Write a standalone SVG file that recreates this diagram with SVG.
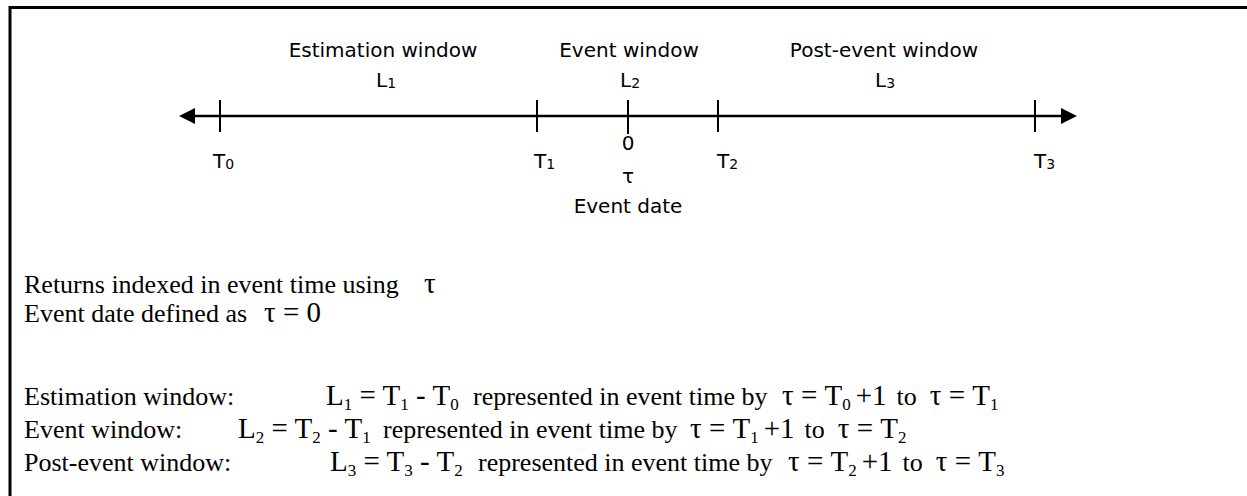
<svg xmlns="http://www.w3.org/2000/svg" width="1247" height="496" viewBox="0 0 1247 496">
<style>
.sans{font-family:"DejaVu Sans","Liberation Sans",sans-serif;font-size:20px;fill:#000}
.ss{font-size:14px}
.serif{font-family:"Liberation Serif","Times New Roman",serif;font-size:26px;fill:#000}
.m{font-size:29px}
.s{font-size:17px}
.tick{stroke:#000;stroke-width:2}
.axis{stroke:#000;stroke-width:2.5;fill:none}
</style>
<defs>
<marker id="ah" viewBox="0 0 16 16" refX="2" refY="8" markerWidth="16" markerHeight="16" markerUnits="userSpaceOnUse" orient="auto-start-reverse">
<path d="M0,0 L16,8 L0,16 Z" fill="#000"/>
</marker>
</defs>
<rect width="1247" height="496" fill="#fff"/>
<g id="frame">
<path d="M10,496 V7.5 H1247" fill="none" stroke="#000" stroke-width="3"/>
</g>
<g id="connectors">
<line class="axis" x1="193" y1="116" x2="1063" y2="116" marker-start="url(#ah)" marker-end="url(#ah)"/>
</g>
<g id="ticks">
<line id="tick-T0" class="tick" x1="220" y1="100" x2="220" y2="132"/>
<line id="tick-T1" class="tick" x1="537" y1="100" x2="537" y2="132"/>
<line id="tick-0" class="tick" x1="628" y1="100" x2="628" y2="134"/>
<line id="tick-T2" class="tick" x1="718" y1="100" x2="718" y2="132"/>
<line id="tick-T3" class="tick" x1="1035" y1="100" x2="1035" y2="132"/>
</g>
<g id="window-labels" class="sans">
<g id="estimation-window"><text x="383" y="57" text-anchor="middle">Estimation window</text><text x="376" y="87">L<tspan class="ss" dy="1">1</tspan></text></g>
<g id="event-window"><text x="629" y="57" text-anchor="middle">Event window</text><text x="620" y="87">L<tspan class="ss" dy="1">2</tspan></text></g>
<g id="post-event-window"><text x="884" y="57" text-anchor="middle">Post-event window</text><text x="875" y="87">L<tspan class="ss" dy="1">3</tspan></text></g>
</g>
<g id="tick-labels" class="sans">
<text x="213" y="168">T<tspan class="ss" dy="1">0</tspan></text>
<text x="534" y="168">T<tspan class="ss" dy="1">1</tspan></text>
<text x="628" y="150" text-anchor="middle">0</text>
<text x="717" y="168">T<tspan class="ss" dy="1">2</tspan></text>
<text x="1034" y="168">T<tspan class="ss" dy="1">3</tspan></text>
<text x="628" y="183" text-anchor="middle">τ</text>
<text x="628" y="213" text-anchor="middle">Event date</text>
</g>
<g id="notes" class="serif">
<text x="24" y="293">Returns indexed in event time using</text>
<text x="424" y="293" class="m">τ</text>
<text x="24" y="322">Event date defined as</text>
<text x="264" y="322" class="m">τ = 0</text>

<text x="24" y="405">Estimation window:</text>
<text x="326" y="405"><tspan class="m">L</tspan><tspan class="s" dy="5">1</tspan><tspan class="m" dy="-5"> = T</tspan><tspan class="s" dy="5">1</tspan><tspan class="m" dy="-5"> - T</tspan><tspan class="s" dy="5">0</tspan></text>
<text x="473" y="405">represented in event time by</text>
<text x="782" y="405"><tspan class="m">τ = T</tspan><tspan class="s" dy="5">0</tspan><tspan class="m" dy="-5" dx="5">+1</tspan><tspan dx="10">to</tspan><tspan class="m" dx="13">τ = T</tspan><tspan class="s" dy="5">1</tspan></text>

<text x="24" y="438">Event window:</text>
<text x="238" y="438"><tspan class="m">L</tspan><tspan class="s" dy="5">2</tspan><tspan class="m" dy="-5"> = T</tspan><tspan class="s" dy="5">2</tspan><tspan class="m" dy="-5"> - T</tspan><tspan class="s" dy="5">1</tspan></text>
<text x="383" y="438">represented in event time by</text>
<text x="690" y="438"><tspan class="m">τ = T</tspan><tspan class="s" dy="5">1</tspan><tspan class="m" dy="-5" dx="5">+1</tspan><tspan dx="10">to</tspan><tspan class="m" dx="13">τ = T</tspan><tspan class="s" dy="5">2</tspan></text>

<text x="24" y="471">Post-event window:</text>
<text x="330" y="471"><tspan class="m">L</tspan><tspan class="s" dy="5">3</tspan><tspan class="m" dy="-5"> = T</tspan><tspan class="s" dy="5">3</tspan><tspan class="m" dy="-5"> - T</tspan><tspan class="s" dy="5">2</tspan></text>
<text x="478" y="471">represented in event time by</text>
<text x="788" y="471"><tspan class="m">τ = T</tspan><tspan class="s" dy="5">2</tspan><tspan class="m" dy="-5" dx="5">+1</tspan><tspan dx="10">to</tspan><tspan class="m" dx="13">τ = T</tspan><tspan class="s" dy="5">3</tspan></text>
</g>
</svg>
